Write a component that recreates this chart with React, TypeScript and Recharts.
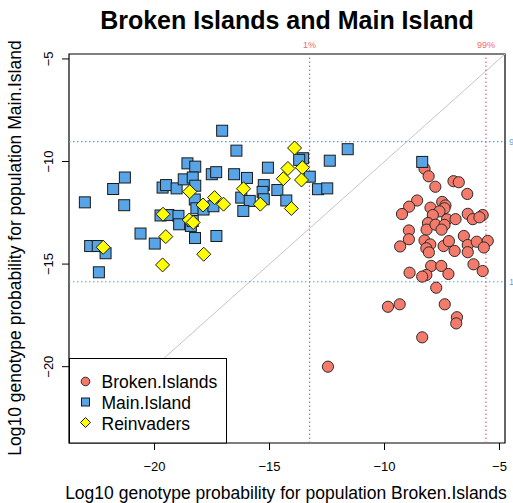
import { ScatterChart, Scatter, XAxis, YAxis, ReferenceLine, ReferenceArea } from "recharts"

// log10 genotype probabilities: [Broken.Islands, Main.Island]
const brokenIslands: [number, number][] = [
  [-8.26, -10.35], [-8.08, -10.72], [-7.79, -11.23], [-7.0, -10.96], [-6.77, -11.01],
  [-6.4, -11.58], [-8.58, -11.9], [-8.93, -12.2], [-9.24, -12.56], [-8.0, -12.25],
  [-7.49, -11.97], [-7.35, -12.14], [-7.39, -12.28], [-7.61, -12.43], [-7.9, -12.61],
  [-6.38, -12.55], [-6.16, -12.81], [-5.73, -12.61], [-5.87, -12.72], [-8.11, -13.0],
  [-8.17, -13.32], [-7.78, -13.08], [-7.28, -12.82], [-6.91, -12.81], [-7.39, -13.09],
  [-7.52, -13.32], [-8.94, -13.36], [-8.94, -13.79], [-9.32, -14.14], [-8.26, -13.85],
  [-8.01, -14.04], [-8.18, -14.23], [-8.07, -14.43], [-7.43, -14.12], [-7.2, -13.88],
  [-6.95, -14.36], [-6.55, -13.63], [-6.38, -14.07], [-6.38, -14.42], [-5.99, -13.91],
  [-5.51, -13.87], [-5.68, -14.19], [-6.13, -15.01], [-5.73, -15.34], [-7.97, -15.09],
  [-7.53, -15.09], [-7.22, -15.48], [-8.91, -15.42], [-8.18, -15.53], [-8.36, -15.61],
  [-7.75, -16.15], [-9.85, -17.08], [-9.34, -16.96], [-7.38, -16.96], [-6.85, -17.59],
  [-6.88, -17.89], [-8.36, -18.57], [-12.46, -20.0],
]

const mainIsland: [number, number][] = [
  [-17.06, -8.5], [-16.44, -9.47], [-11.6, -9.4], [-18.57, -10.09], [-18.23, -10.25],
  [-21.29, -10.78], [-21.8, -11.34], [-23.03, -11.99], [-21.32, -12.13], [-19.65, -11.27],
  [-19.5, -11.15], [-19.04, -11.31], [-18.73, -10.87], [-18.34, -10.78], [-18.23, -11.18],
  [-17.51, -10.62], [-17.32, -10.52], [-16.54, -10.62], [-15.98, -10.8], [-15.07, -10.3],
  [-15.25, -11.15], [-15.3, -11.48], [-14.66, -11.39], [-14.27, -11.9], [-13.54, -9.84],
  [-13.71, -9.92], [-13.25, -10.74], [-12.89, -11.35], [-12.49, -11.31], [-12.38, -9.96],
  [-16.23, -11.76], [-15.86, -11.92], [-15.25, -11.84], [-16.14, -12.41], [-18.25, -11.85],
  [-18.18, -12.28], [-17.87, -12.34], [-17.44, -12.18], [-19.74, -12.63], [-19.4, -12.61],
  [-18.96, -12.65], [-18.93, -13.06], [-18.42, -13.14], [-18.34, -12.9], [-20.61, -13.51],
  [-19.99, -14.0], [-18.24, -13.73], [-17.31, -13.63], [-22.8, -14.12], [-22.47, -14.12],
  [-22.13, -14.47], [-22.42, -15.4], [-8.36, -10.02],
]

const reinvaders: [number, number][] = [
  [-13.91, -9.34], [-14.2, -10.34], [-13.57, -10.3], [-14.4, -10.84], [-13.61, -10.9],
  [-14.05, -12.29], [-16.13, -11.33], [-15.4, -12.08], [-18.47, -11.47], [-17.39, -11.76],
  [-17.0, -12.08], [-17.89, -12.12], [-19.63, -12.57], [-18.49, -12.85], [-18.32, -12.97],
  [-19.51, -13.66], [-22.23, -14.18], [-17.86, -14.52], [-19.65, -15.04],
]

const axisTicks = [-20, -15, -10, -5]
const domain: [number, number] = [-23.72, -4.76]
// quantile thresholds
const brokenQuantiles = [
  { label: "1%", value: -13.26 },
  { label: "99%", value: -5.59 },
]
const mainQuantiles = [
  { label: "99%", value: -9.03 },
  { label: "1%", value: -15.86 },
]

const toPoints = (rows: [number, number][]) => rows.map(([x, y]) => ({ x, y }))

const fmt = (v: number) => String(v).replace("-", "\u2212")

const CircleDot = (p: any) => (
  <circle cx={p.cx} cy={p.cy} r={5.6} fill="#f47b6b" stroke="#2b2b2b" strokeWidth={1} />
)
const SquareDot = (p: any) => (
  <rect x={p.cx - 5.5} y={p.cy - 5.5} width={11} height={11} fill="#57a5e6" stroke="#1a1a1a" strokeWidth={1} />
)
const DiamondDot = (p: any) => (
  <polygon
    points={`${p.cx},${p.cy - 7} ${p.cx + 7},${p.cy} ${p.cx},${p.cy + 7} ${p.cx - 7},${p.cy}`}
    fill="#ffff00"
    stroke="#1a1a1a"
    strokeWidth={1}
  />
)

const YTick = ({ x, y, payload }: any) => (
  <text x={x - 7} y={y} transform={`rotate(-90 ${x - 7} ${y})`} textAnchor="middle" fontSize={13} fill="#000">
    {fmt(payload.value)}
  </text>
)

const font = "'Liberation Sans', Arial, sans-serif"

export default function App() {
  return (
    <div style={{ position: "absolute", left: 0, top: 0, width: 513, height: 503, fontFamily: font, background: "#fff" }}>
      <ScatterChart width={513} height={503} margin={{ top: 54, right: 8, left: 29, bottom: 30 }}>
        <XAxis
          type="number"
          dataKey="x"
          domain={domain}
          ticks={axisTicks}
          allowDataOverflow
          axisLine={false}
          tickSize={7}
          tickMargin={12}
          tickLine={{ stroke: "#000" }}
          tick={{ fill: "#000", fontSize: 13 }}
          tickFormatter={fmt}
          height={30}
        />
        <YAxis
          type="number"
          dataKey="y"
          domain={domain}
          ticks={axisTicks}
          allowDataOverflow
          axisLine={false}
          tickSize={7}
          tickLine={{ stroke: "#000" }}
          tick={<YTick />}
          width={40}
        />
        <ReferenceLine
          segment={[{ x: domain[0], y: domain[0] }, { x: domain[1], y: domain[1] }]}
          stroke="#c4c4c4"
          strokeWidth={1}
        />
        {brokenQuantiles.map((q) => (
          <ReferenceLine
            key={`bx-${q.label}`}
            x={q.value}
            stroke="#ff5a5a"
            strokeWidth={1.2}
            strokeDasharray="1.5 2.5"
            label={{ value: q.label, position: "top", fill: "#f06a6a", fontSize: 9, offset: 6 }}
          />
        ))}
        {mainQuantiles.map((q) => (
          <ReferenceLine
            key={`my-${q.label}`}
            y={q.value}
            stroke="#4fa3ef"
            strokeWidth={1.2}
            strokeDasharray="1.5 2.5"
            label={{ value: q.label, position: "right", fill: "#5aa8ec", fontSize: 9, offset: 4 }}
          />
        ))}
        <Scatter data={toPoints(brokenIslands)} shape={<CircleDot />} isAnimationActive={false} />
        <Scatter data={toPoints(mainIsland)} shape={<SquareDot />} isAnimationActive={false} />
        <Scatter data={toPoints(reinvaders)} shape={<DiamondDot />} isAnimationActive={false} />
        <ReferenceArea
          x1={domain[0]}
          x2={domain[1]}
          y1={domain[0]}
          y2={domain[1]}
          fill="none"
          fillOpacity={0}
          stroke="#000"
          strokeWidth={1.2}
        />
      </ScatterChart>

      <svg width={513} height={503} style={{ position: "absolute", left: 0, top: 0, pointerEvents: "none" }}>
        <text x={287} y={29} textAnchor="middle" fontSize={25} fontWeight="bold" fill="#000">
          Broken Islands and Main Island
        </text>
        <text x={286} y={499} textAnchor="middle" fontSize={17.5} fill="#000">
          Log10 genotype probability for population Broken.Islands
        </text>
        <text x={21} y={248} transform="rotate(-90 21 248)" textAnchor="middle" fontSize={17.5} fill="#000">
          Log10 genotype probability for population Main.Island
        </text>
        <g transform="translate(69.5 358.5)">
          <rect x={0} y={0} width={157} height={84.5} fill="#fff" stroke="#000" strokeWidth={1} />
          <circle cx={16} cy={23} r={4.3} fill="#f47b6b" stroke="#2b2b2b" />
          <rect x={12} y={39.5} width={8} height={8} fill="#57a5e6" stroke="#1a1a1a" />
          <polygon points="16,59 21,64 16,69 11,64" fill="#ffff00" stroke="#1a1a1a" />
          <text x={32} y={29} fontSize={17.5} fill="#000">Broken.Islands</text>
          <text x={32} y={50} fontSize={17.5} fill="#000">Main.Island</text>
          <text x={32} y={71} fontSize={17.5} fill="#000">Reinvaders</text>
        </g>
      </svg>
    </div>
  )
}
